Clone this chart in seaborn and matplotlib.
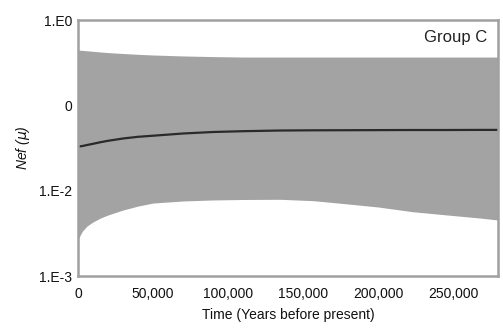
import matplotlib
matplotlib.use("Agg")
import matplotlib.pyplot as plt
import seaborn as sns
import pandas as pd
from matplotlib.ticker import FixedLocator, FixedFormatter, NullFormatter, MultipleLocator, FuncFormatter

time = [0, 1500, 3000, 6000, 10000, 15000, 20000, 30000, 40000, 50000, 70000, 90000,
        110000, 135000, 157000, 180000, 200000, 223000, 246000, 268000, 280000]
median = [0.03275, 0.0331, 0.03337, 0.03428, 0.03541, 0.03698, 0.0384, 0.04086, 0.04278, 0.04405,
          0.04676, 0.0487, 0.04976, 0.0507, 0.05098, 0.05111, 0.05125, 0.05139, 0.05139, 0.05153, 0.05153]
upper = [0.445, 0.4426, 0.440, 0.4355, 0.4296, 0.4217, 0.415, 0.405, 0.396, 0.389, 0.379, 0.3725,
         0.368, 0.368, 0.368, 0.368, 0.368, 0.368, 0.368, 0.368, 0.368]
lower = [0.00264, 0.00302, 0.00337, 0.00385, 0.0043, 0.00478, 0.00519, 0.00593, 0.0066, 0.00716,
         0.00757, 0.00778, 0.00788, 0.00792, 0.00763, 0.00698, 0.00644, 0.00567, 0.00519, 0.00478, 0.00453]
ytick_vals = [1e-3, 1e-2, 1e-1, 1e0]
ytick_labels = ["1.E-3", "1.E-2", "0", "1.E0"]
xtick_vals = [0, 50000, 100000, 150000, 200000, 250000]

df = pd.DataFrame({"time": time, "median": median, "upper": upper, "lower": lower})

sns.set_theme(style="white")
plt.rcParams['font.family'] = ['Liberation Sans', 'DejaVu Sans']

fig = plt.figure(figsize=(5.03, 3.33), dpi=100)
ax = fig.add_axes([78/503, 1 - 276/333, 420/503, 256/333])

ax.fill_between(df["time"], df["lower"], df["upper"], color="#a3a3a3", linewidth=0)
sns.lineplot(data=df, x="time", y="median", ax=ax, color="#2a2a2a", linewidth=1.6)

ax.set_yscale("log")
ax.set_ylim(1e-3, 1e0)
ax.set_xlim(0, 280000)
ax.yaxis.set_major_locator(FixedLocator(ytick_vals))
ax.yaxis.set_major_formatter(FixedFormatter(ytick_labels))
ax.yaxis.set_minor_formatter(NullFormatter())
ax.set_xticks(xtick_vals)
ax.xaxis.set_major_formatter(FuncFormatter(lambda v, p: f"{int(v):,}"))
ax.xaxis.set_minor_locator(MultipleLocator(25000))

for s in ax.spines.values():
    s.set_color("#a0a0a0")
    s.set_linewidth(1.8)

ax.tick_params(axis="both", which="major", direction="out", length=3, width=1, color="#a0a0a0",
               labelsize=10, labelcolor="#111111", pad=1)
ax.tick_params(axis="both", which="minor", direction="in", length=2, width=0.8, color="#a0a0a0")
ax.tick_params(axis="x", which="major", pad=5)

ax.set_xlabel("Time (Years before present)", fontsize=10, color="#111111", labelpad=5)
ax.set_ylabel("Nef ($\\mu$)", fontsize=10, color="#111111", style="italic", labelpad=5)

ax.text(0.975, 0.93, "Group C", transform=ax.transAxes, ha="right", va="center",
        fontsize=12, color="#222222")

fig.savefig("out.png", dpi=100)
